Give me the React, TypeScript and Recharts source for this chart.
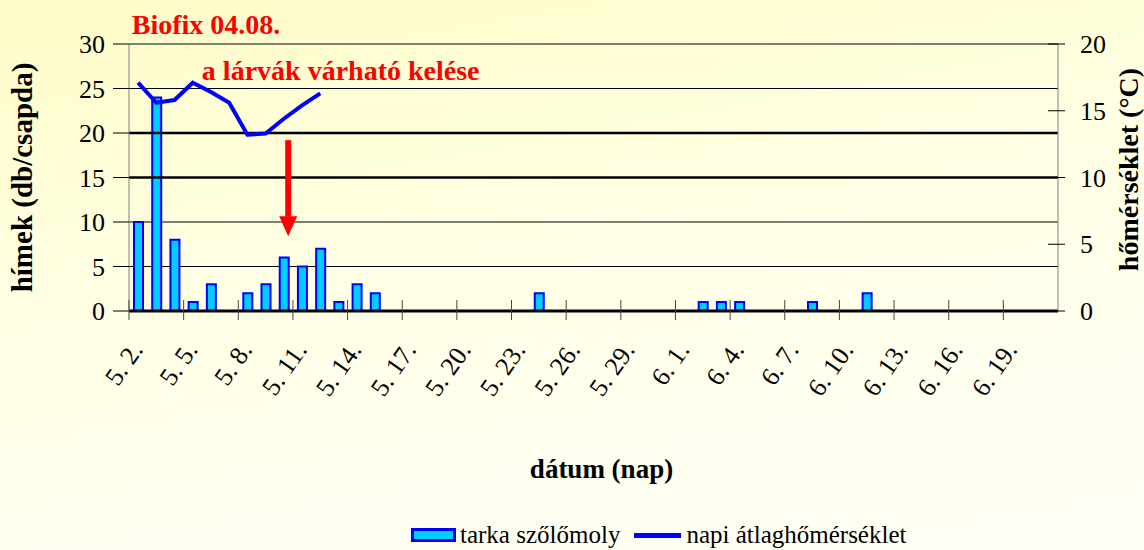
import {
  Bar,
  CartesianGrid,
  ComposedChart,
  Legend,
  Line,
  ReferenceDot,
  ReferenceLine,
  XAxis,
  YAxis,
} from 'recharts';

// one entry per day, 5.2. .. 6.21.
const days = [
  '5. 2.', '5. 3.', '5. 4.', '5. 5.', '5. 6.', '5. 7.', '5. 8.', '5. 9.', '5. 10.', '5. 11.',
  '5. 12.', '5. 13.', '5. 14.', '5. 15.', '5. 16.', '5. 17.', '5. 18.', '5. 19.', '5. 20.', '5. 21.',
  '5. 22.', '5. 23.', '5. 24.', '5. 25.', '5. 26.', '5. 27.', '5. 28.', '5. 29.', '5. 30.', '5. 31.',
  '6. 1.', '6. 2.', '6. 3.', '6. 4.', '6. 5.', '6. 6.', '6. 7.', '6. 8.', '6. 9.', '6. 10.',
  '6. 11.', '6. 12.', '6. 13.', '6. 14.', '6. 15.', '6. 16.', '6. 17.', '6. 18.', '6. 19.', '6. 20.',
  '6. 21.',
];

// hímek / csapda (null = no catch that day)
const counts = [
  10, 24, 8, 1, 3, null, 2, 3, 6, 5,
  7, 1, 3, 2, null, null, null, null, null, null,
  null, null, 2, null, null, null, null, null, null, null,
  null, 1, 1, 1, null, null, null, 1, null, null,
  2, null, null, null, null, null, null, null, null, null,
  null,
];

// napi átlaghőmérséklet (°C), first days only
const temps = [17.1, 15.6, 15.8, 17.1, 16.4, 15.6, 13.2, 13.3, 14.4, 15.4, 16.3];

const xTicks = [0, 3, 6, 9, 12, 15, 18, 21, 24, 27, 30, 33, 36, 39, 42, 45, 48];
const leftTicks = [0, 5, 10, 15, 20, 25, 30];
const rightTicks = [0, 5, 10, 15, 20];

const data = days.map((d, i) => ({
  pos: i + 0.5,
  day: d,
  count: counts[i],
  temp: i < temps.length ? temps[i] : null,
}));

const FONT = 'Liberation Serif';
const ARROW_X = 8.74;

const XTick = (props: any) => {
  const { x, y, payload } = props;
  const lx = x + 15;
  const ly = y + 39;
  return (
    <g>
      <line x1={x} x2={x} y1={y - 11} y2={y + 9} stroke="#444" />
      <text
        x={lx}
        y={ly}
        textAnchor="end"
        fontSize={26}
        fontFamily={FONT}
        fill="#000"
        transform={`rotate(-55 ${lx} ${ly})`}
      >
        {days[payload.value]}
      </text>
    </g>
  );
};

const RightTick = (props: any) => {
  const { x, y, payload } = props;
  return (
    <g>
      <line x1={x - 10} x2={x + 7} y1={y} y2={y} stroke="#000" />
      <text x={x + 22} y={y} dy="0.35em" fontSize={26} fontFamily={FONT} fill="#000">
        {payload.value}
      </text>
    </g>
  );
};

const renderLegend = (props: any) => {
  // bar entry first, as in the original
  const items = [...(props.payload || [])].sort(
    (a: any, b: any) => (a.type === 'line' ? 1 : 0) - (b.type === 'line' ? 1 : 0)
  );
  return (
    <div
      style={{
        display: 'flex',
        alignItems: 'center',
        height: 30,
        paddingLeft: 411,
        fontFamily: FONT,
        fontSize: 25,
        color: '#000',
      }}
    >
      {items.map((entry: any, i: number) => (
        <span key={`leg-${i}`} style={{ display: 'flex', alignItems: 'center', marginRight: 14 }}>
          {entry.type === 'line' ? (
            <span style={{ width: 47, height: 5, background: '#0000FF', marginRight: 5 }} />
          ) : (
            <span
              style={{
                width: 39,
                height: 8,
                background: '#00CCFF',
                border: '3px solid #0000FF',
                marginRight: 4,
              }}
            />
          )}
          {entry.value}
        </span>
      ))}
    </div>
  );
};

export default function App() {
  return (
    <div
      style={{
        position: 'absolute',
        left: 0,
        top: 0,
        width: 1144,
        height: 550,
        background: 'linear-gradient(170deg, #FEFCC6 0%, #FFFFE6 45%, #FFFFF7 100%)',
      }}
    >
      <ComposedChart
        width={1144}
        height={550}
        data={data}
        margin={{ top: 44, right: 0, bottom: 0, left: 0 }}
      >
        <CartesianGrid yAxisId="left" vertical={false} stroke="#000" strokeWidth={1.2} />
        <XAxis
          dataKey="pos"
          type="number"
          domain={[0, 51]}
          ticks={xTicks}
          interval={0}
          height={209}
          tickSize={0}
          tickMargin={0}
          tickLine={false}
          tick={<XTick />}
          axisLine={{ stroke: '#000', strokeWidth: 3 }}
          label={({ viewBox }: any) => (
            <text
              x={viewBox.x + viewBox.width / 2 + 8}
              y={viewBox.y + 167}
              textAnchor="middle"
              fontSize={27}
              fontWeight="bold"
              fontFamily={FONT}
              fill="#000"
            >
              dátum (nap)
            </text>
          )}
        />
        <YAxis
          yAxisId="left"
          width={129}
          domain={[0, 30]}
          ticks={leftTicks}
          interval={0}
          tickSize={16}
          tickMargin={8}
          tick={{ fill: '#000', fontSize: 26, fontFamily: FONT }}
          tickLine={{ stroke: '#000' }}
          axisLine={{ stroke: '#808080' }}
          label={({ viewBox }: any) => {
            const lx = viewBox.x + 32;
            const ly = viewBox.y + viewBox.height / 2;
            return (
              <text
                x={lx}
                y={ly}
                textAnchor="middle"
                fontSize={29}
                fontWeight="bold"
                fontFamily={FONT}
                fill="#000"
                transform={`rotate(-90 ${lx} ${ly})`}
              >
                hímek (db/csapda)
              </text>
            );
          }}
        />
        <YAxis
          yAxisId="right"
          orientation="right"
          width={86}
          domain={[0, 20]}
          ticks={rightTicks}
          interval={0}
          tickSize={0}
          tickMargin={0}
          tickLine={false}
          tick={<RightTick />}
          axisLine={{ stroke: '#808080' }}
          label={({ viewBox }: any) => {
            const lx = viewBox.x + 80;
            const ly = viewBox.y + viewBox.height / 2 - 8;
            return (
              <text
                x={lx}
                y={ly}
                textAnchor="middle"
                fontSize={28}
                fontWeight="bold"
                fontFamily={FONT}
                fill="#000"
                transform={`rotate(-90 ${lx} ${ly})`}
              >
                hőmérséklet (°C)
              </text>
            );
          }}
        />
        <ReferenceLine yAxisId="left" y={20} stroke="#000" strokeWidth={2.5} />
        <ReferenceLine yAxisId="left" y={15} stroke="#000" strokeWidth={2.5} />
        <Legend verticalAlign="bottom" align="left" content={renderLegend} />
        <Bar
          yAxisId="left"
          dataKey="count"
          name="tarka szőlőmoly"
          barSize={9}
          fill="#00CCFF"
          stroke="#0000FF"
          strokeWidth={2}
          isAnimationActive={false}
        />
        <Line
          yAxisId="right"
          dataKey="temp"
          name="napi átlaghőmérséklet"
          stroke="#0000FF"
          strokeWidth={4}
          dot={false}
          activeDot={false}
          isAnimationActive={false}
        />
        <ReferenceLine
          yAxisId="left"
          segment={[
            { x: ARROW_X, y: 19.2 },
            { x: ARROW_X, y: 10.6 },
          ]}
          stroke="#FF0000"
          strokeWidth={6}
        />
        <ReferenceDot
          yAxisId="left"
          x={ARROW_X}
          y={8.4}
          r={1}
          shape={(p: any) => (
            <path
              d={`M${p.cx - 9},${p.cy - 20} L${p.cx + 9},${p.cy - 20} L${p.cx},${p.cy} Z`}
              fill="#FF0000"
            />
          )}
        />
        <ReferenceDot
          yAxisId="left"
          x={0.15}
          y={31.15}
          r={1}
          ifOverflow="visible"
          shape={(p: any) => (
            <text x={p.cx} y={p.cy} fontSize={28} fontWeight="bold" fontFamily={FONT} fill="#FF0000">
              Biofix 04.08.
            </text>
          )}
        />
        <ReferenceDot
          yAxisId="left"
          x={4.0}
          y={26.0}
          r={1}
          ifOverflow="visible"
          shape={(p: any) => (
            <text x={p.cx} y={p.cy} fontSize={28} fontWeight="bold" fontFamily={FONT} fill="#FF0000">
              a lárvák várható kelése
            </text>
          )}
        />
      </ComposedChart>
    </div>
  );
}
